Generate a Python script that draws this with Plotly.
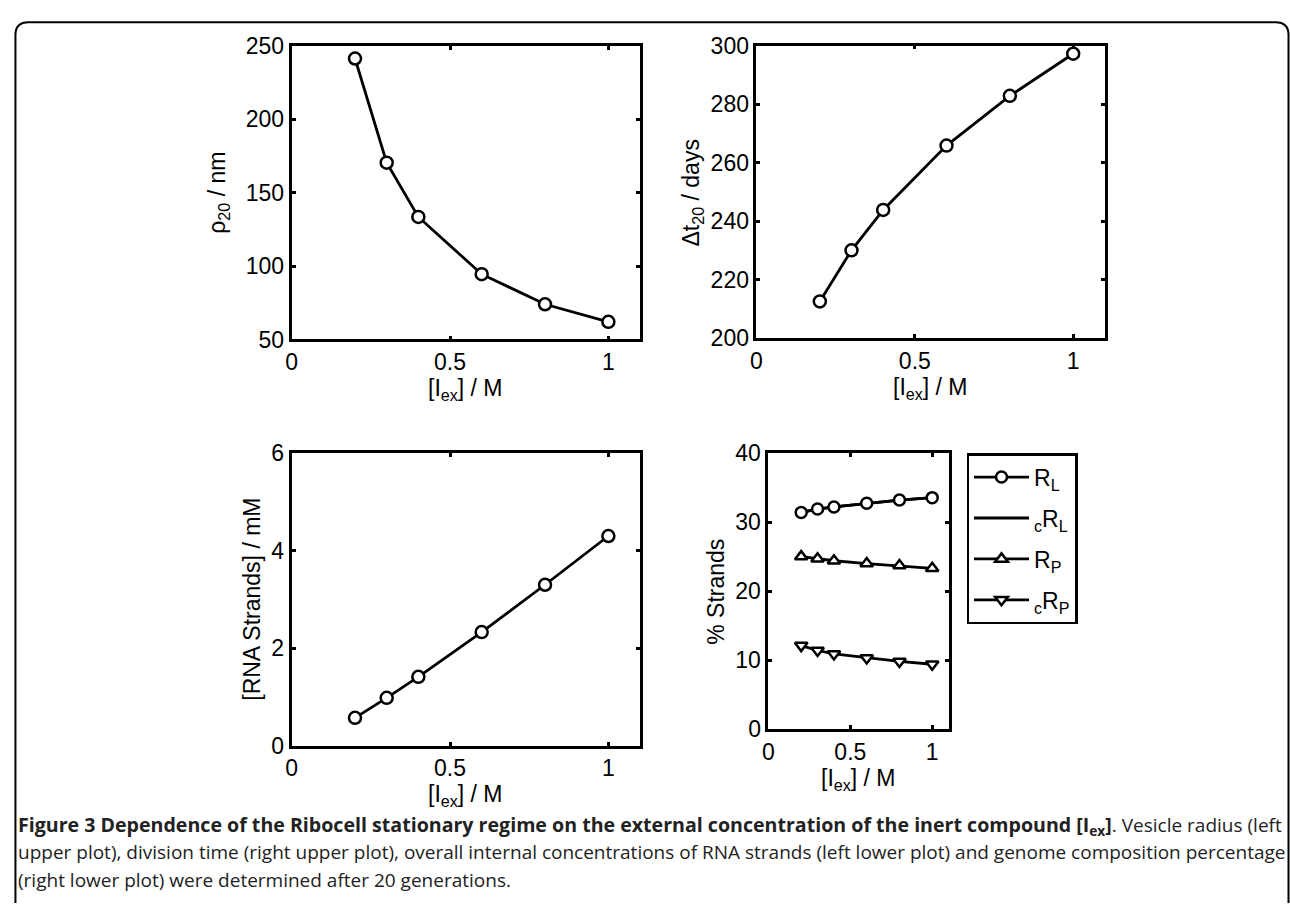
import plotly.graph_objects as go

# ---------------- data ----------------
iex = [0.2, 0.3, 0.4, 0.6, 0.8, 1.0]
rho20 = [241.5, 170.5, 133.5, 94.5, 74.0, 62.0]
dt20 = [212.5, 230.0, 243.8, 265.8, 282.8, 297.2]
rna_strands = [0.57, 0.98, 1.41, 2.33, 3.30, 4.30]
pct_RL = [31.4, 31.9, 32.2, 32.75, 33.2, 33.55]
pct_cRL = [31.4, 31.9, 32.2, 32.75, 33.2, 33.55]
pct_RP = [25.0, 24.7, 24.4, 24.0, 23.7, 23.3]
pct_cRP = [12.1, 11.4, 10.9, 10.3, 9.8, 9.4]

x_tickvals = [0, 0.5, 1]
x_ticktext = ["0", "0.5", "1"]

W, H = 1290, 916


def px(x):
    return x / W


def py(y):
    return 1 - y / H


AX_FONT = "Liberation Sans, Arial, sans-serif"
CAP_FONT = "Open Sans, sans-serif"

fig = go.Figure()

line_style = dict(color="black", width=2.8)


def circ(size=12):
    return dict(symbol="circle", size=size, color="white",
                line=dict(color="black", width=2.5))


fig.add_trace(go.Scatter(x=iex, y=rho20, mode="lines+markers", line=line_style,
                         marker=circ(), xaxis="x", yaxis="y", showlegend=False))
fig.add_trace(go.Scatter(x=iex, y=dt20, mode="lines+markers", line=line_style,
                         marker=circ(), xaxis="x2", yaxis="y2", showlegend=False))
fig.add_trace(go.Scatter(x=iex, y=rna_strands, mode="lines+markers", line=line_style,
                         marker=circ(), xaxis="x3", yaxis="y3", showlegend=False))

fig.add_trace(go.Scatter(x=iex, y=pct_cRL, mode="lines", line=line_style,
                         xaxis="x4", yaxis="y4", name="<sub>c</sub>R<sub>L</sub>",
                         legendrank=2, legendgroup="b"))
fig.add_trace(go.Scatter(x=iex, y=pct_RL, mode="lines+markers", line=line_style,
                         marker=circ(11), xaxis="x4", yaxis="y4",
                         name="R<sub>L</sub>", legendrank=1, legendgroup="a"))
fig.add_trace(go.Scatter(x=iex, y=pct_RP, mode="lines+markers", line=line_style,
                         marker=dict(symbol="triangle-up", size=11, color="white",
                                     line=dict(color="black", width=2.5)),
                         xaxis="x4", yaxis="y4", name="R<sub>P</sub>",
                         legendrank=3, legendgroup="c"))
fig.add_trace(go.Scatter(x=iex, y=pct_cRP, mode="lines+markers", line=line_style,
                         marker=dict(symbol="triangle-down", size=11, color="white",
                                     line=dict(color="black", width=2.5)),
                         xaxis="x4", yaxis="y4", name="<sub>c</sub>R<sub>P</sub>",
                         legendrank=4, legendgroup="d"))


def xax(x0, x1, anchor):
    return dict(domain=[px(x0), px(x1)], range=[0, 1.1], anchor=anchor,
                tickvals=x_tickvals, ticktext=x_ticktext,
                showline=True, linewidth=2.8, linecolor="black", mirror="ticks",
                ticks="inside", ticklen=4, tickwidth=2.5, tickcolor="black",
                showgrid=False, zeroline=False,
                tickfont=dict(family=AX_FONT, size=23, color="black"))


def yax(y0, y1, rng, dtick, anchor):
    return dict(domain=[py(y1), py(y0)], range=rng, dtick=dtick, anchor=anchor,
                showline=True, linewidth=2.8, linecolor="black", mirror="ticks",
                ticks="inside", ticklen=4, tickwidth=2.5, tickcolor="black",
                showgrid=False, zeroline=False,
                tickfont=dict(family=AX_FONT, size=23, color="black"))


annotations = []


def title(text, x, y, angle=0, yanchor="middle"):
    annotations.append(dict(text=text, x=px(x), y=py(y), xref="paper", yref="paper",
                            showarrow=False, textangle=angle, borderpad=0,
                            xanchor="center", yanchor=yanchor,
                            font=dict(family=AX_FONT, size=23, color="black")))


title("ρ<sub>20</sub> / nm", 214, 185, -90)
title("Δt<sub>20</sub> / days", 690, 185, -90)
title("[RNA Strands] / mM", 247, 603, -90)
title("% Strands", 713, 596, -90)
title("[I<sub>ex</sub>] / M", 462, 336 + 36, yanchor="top")
title("[I<sub>ex</sub>] / M", 929, 334.5 + 36, yanchor="top")
title("[I<sub>ex</sub>] / M", 462, 754 + 35, yanchor="top")
title("[I<sub>ex</sub>] / M", 856, 737 + 36, yanchor="top")

cap_lines = [
    "<b><span style='font-size:19.6px'>Figure 3 Dependence of the Ribocell stationary regime on the external concentration of the inert compound [I<sub>ex</sub>]</span></b>. Vesicle radius (left",
    "upper plot), division time (right upper plot), overall internal concentrations of RNA strands (left lower plot) and genome composition percentage",
    "(right lower plot) were determined after 20 generations.",
]
cap_y = [836, 864, 892]
for t, yy in zip(cap_lines, cap_y):
    annotations.append(dict(text=t, x=px(11), y=py(yy), xref="paper", yref="paper",
                            showarrow=False, xanchor="left", yanchor="middle",
                            borderpad=0,
                            font=dict(family=CAP_FONT, size=19, color="#222222")))

# outer frame with rounded top corners (kept inside the figure area)
fx0, fy0, fx1, r = 9.5, 9.5, 1288.5, 13
path = (f"M {px(fx0)},0 L {px(fx0)},{py(fy0 + r)} "
        f"Q {px(fx0)},{py(fy0)} {px(fx0 + r)},{py(fy0)} "
        f"L {px(fx1 - r)},{py(fy0)} Q {px(fx1)},{py(fy0)} {px(fx1)},{py(fy0 + r)} "
        f"L {px(fx1)},0")

fig.update_layout(
    width=W, height=H,
    margin=dict(l=0, r=0, t=0, b=0),
    paper_bgcolor="white", plot_bgcolor="white",
    xaxis=xax(287, 637, "y"), yaxis=yax(34, 336, [50, 250], 50, "x"),
    xaxis2=xax(754, 1104, "y2"), yaxis2=yax(33.5, 334.5, [200, 300], 20, "x2"),
    xaxis3=xax(287, 637, "y3"), yaxis3=yax(453, 754, [0, 6], 2, "x3"),
    xaxis4=xax(766, 947, "y4"), yaxis4=yax(453, 737, [0, 40], 10, "x4"),
    annotations=annotations,
    shapes=[dict(type="path", path=path, xref="paper", yref="paper",
                 line=dict(color="black", width=2))],
    legend=dict(x=px(965), y=py(453), xanchor="left", yanchor="top",
                bordercolor="black", borderwidth=2.5, bgcolor="white",
                font=dict(family=AX_FONT, size=23, color="black"),
                itemwidth=55, tracegroupgap=8, traceorder="grouped"),
    showlegend=True,
)

post = (
    "document.documentElement.style.margin='0px';"
    "document.documentElement.style.padding='0px';"
    "document.documentElement.style.overflow='hidden';"
    "document.body.style.margin='0px';"
    "document.body.style.padding='0px';"
    "document.body.style.overflow='hidden';"
)

fig.write_html("out.html", config={"displayModeBar": False}, post_script=post)
